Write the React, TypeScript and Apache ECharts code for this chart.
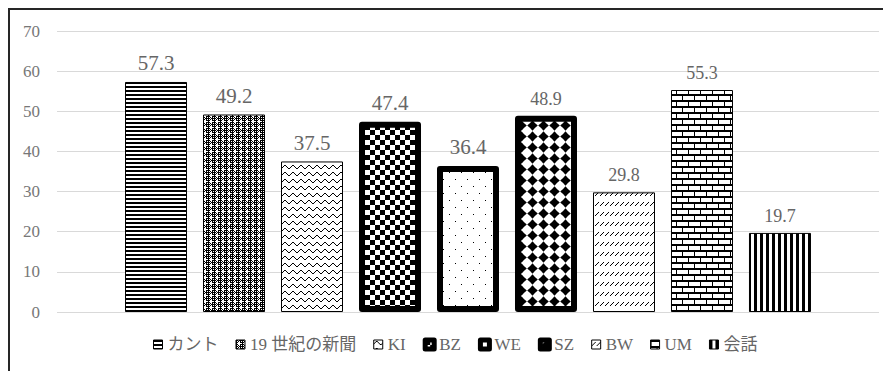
import React, { useEffect, useRef } from 'react';
import * as echarts from 'echarts';

const categories = [''];
const seriesNames = ['カント', '19 世紀の新聞', 'KI', 'BZ', 'WE', 'SZ', 'BW', 'UM', '会話'];
const values = [57.3, 49.2, 37.5, 47.4, 36.4, 48.9, 29.8, 55.3, 19.7];
const yMin = 0;
const yMax = 70;
const yInterval = 10;

const SERIF = "Liberation Serif, Noto Sans CJK JP, serif";

type Ctx = CanvasRenderingContext2D;

function tile(w: number, h: number, draw: (ctx: Ctx) => void) {
  const c = document.createElement('canvas');
  c.width = w;
  c.height = h;
  const ctx = c.getContext('2d') as Ctx;
  ctx.fillStyle = '#fff';
  ctx.fillRect(0, 0, w, h);
  ctx.fillStyle = '#000';
  ctx.strokeStyle = '#000';
  draw(ctx);
  return { image: c.toDataURL(), imageWidth: w, imageHeight: h, repeat: 'repeat' };
}

function makePatterns() {
  // カント: horizontal stripes
  const kant = tile(4, 4, (ctx) => ctx.fillRect(0, 0, 4, 2));
  // 19 世紀の新聞: dense dark texture with white crosses
  const news = tile(6, 6, (ctx) => {
    for (let x = 0; x < 6; x++)
      for (let y = 0; y < 6; y++) if ((x + y) % 2 === 1 || (y % 2 === 0 && x % 4 === 0)) ctx.fillRect(x, y, 1, 1);
    ctx.fillStyle = '#fff';
    ctx.fillRect(3, 2, 1, 1);
    ctx.fillRect(2, 3, 1, 1);
    ctx.fillRect(3, 3, 1, 1);
    ctx.fillRect(4, 3, 1, 1);
    ctx.fillRect(3, 4, 1, 1);
  });
  // KI: waves
  const ki = tile(8, 7, (ctx) => {
    const ys = [3, 2, 1, 1, 2, 3, 4, 4];
    ys.forEach((y, x) => ctx.fillRect(x, y, 1, 1));
  });
  // BZ: checkerboard
  const bz = tile(10, 10, (ctx) => {
    ctx.fillRect(0, 0, 5, 5);
    ctx.fillRect(5, 5, 5, 5);
  });
  // WE: sparse dots
  const we = tile(12, 14, (ctx) => {
    ctx.fillRect(1, 1, 1, 1);
    ctx.fillRect(7, 8, 1, 1);
  });
  // SZ: black four-pointed stars
  const sz = tile(11, 11, (ctx) => {
    ctx.beginPath();
    ctx.moveTo(5.5, 0.2);
    ctx.lineTo(7.9, 3.1);
    ctx.lineTo(10.8, 5.5);
    ctx.lineTo(7.9, 7.9);
    ctx.lineTo(5.5, 10.8);
    ctx.lineTo(3.1, 7.9);
    ctx.lineTo(0.2, 5.5);
    ctx.lineTo(3.1, 3.1);
    ctx.closePath();
    ctx.fill();
  });
  // BW: rows of short slashes
  const bw = tile(5, 10, (ctx) => {
    ctx.fillRect(0, 5, 1, 1);
    ctx.fillRect(1, 4, 1, 1);
    ctx.fillRect(2, 3, 1, 1);
    ctx.fillRect(3, 2, 1, 1);
  });
  // UM: bricks
  const um = tile(12, 12, (ctx) => {
    ctx.fillRect(0, 0, 12, 2);
    ctx.fillRect(0, 6, 12, 2);
    ctx.fillRect(0, 2, 1, 4);
    ctx.fillRect(6, 8, 1, 4);
  });
  // 会話: vertical stripes
  const kaiwa = tile(6, 2, (ctx) => ctx.fillRect(0, 0, 3, 2));
  return [kant, news, ki, bz, we, sz, bw, um, kaiwa];
}

export default function App() {
  const ref = useRef<HTMLDivElement>(null);

  useEffect(() => {
    document.documentElement.style.overflow = 'hidden';
    document.body.style.overflow = 'hidden';
    const chart = echarts.init(ref.current as HTMLDivElement, null, { renderer: 'svg' });
    const patterns = makePatterns();
    const thick = [false, false, false, true, true, true, false, false, false];
    const labelSizes = [21, 21, 21, 21, 21, 18, 18, 18, 18];

    const option: any = {
      animation: false,
      grid: { left: 47, right: 31, top: 21, bottom: 78, containLabel: false },
      legend: {
        left: 138,
        top: 321,
        icon: 'rect',
        itemWidth: 9,
        itemHeight: 9,
        itemGap: 17,
        textStyle: { color: '#666', fontSize: 17, fontFamily: SERIF },
        data: seriesNames.map((name, i) => ({
          name,
          itemStyle: { borderWidth: thick[i] ? 5 : 1, borderColor: '#000' },
        })),
      },
      xAxis: {
        type: 'category',
        data: categories,
        axisLine: { show: false },
        axisTick: { show: false },
        axisLabel: { show: false },
      },
      yAxis: {
        type: 'value',
        min: yMin,
        max: yMax,
        interval: yInterval,
        axisLine: { show: false },
        axisTick: { show: false },
        splitLine: { lineStyle: { color: '#d9d9d9', width: 1 } },
        axisLabel: { color: '#777', fontSize: 17, margin: 17, fontFamily: SERIF },
      },
      series: seriesNames.map((name, i) => ({
        name,
        type: 'bar',
        data: [values[i]],
        barWidth: 62,
        barGap: '25.8%',
        itemStyle: {
          color: patterns[i],
          borderColor: '#000',
          borderWidth: thick[i] ? 6 : 1,
          borderJoin: 'round',
        },
        label: {
          show: true,
          position: 'top',
          distance: 8,
          color: '#666',
          fontSize: labelSizes[i],
          fontFamily: SERIF,
        },
        emphasis: { disabled: true },
      })),
    };
    chart.setOption(option);
    return () => {
      chart.dispose();
    };
  }, []);

  return (
    <div style={{ width: 900, height: 380, border: '2px solid #262626' }}>
      <div ref={ref} style={{ width: 900, height: 380 }} />
    </div>
  );
}
